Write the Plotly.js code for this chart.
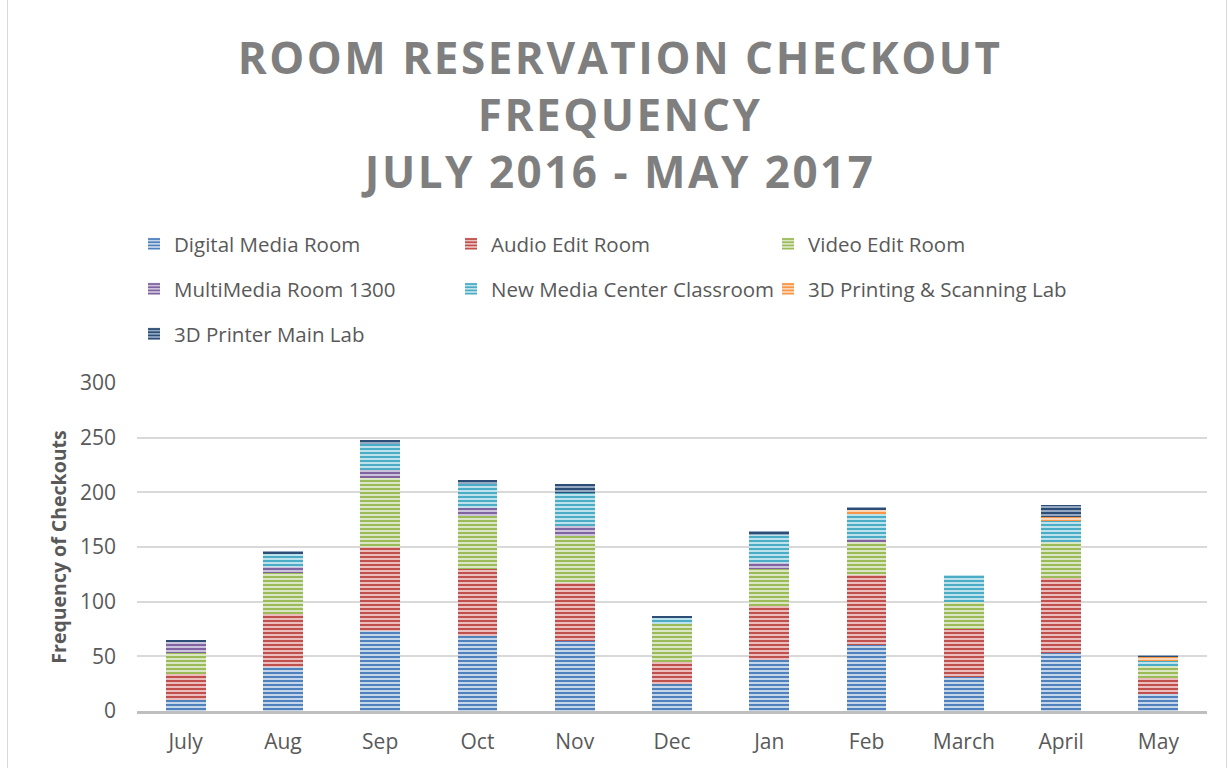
<!DOCTYPE html>
<html>
<head>
<meta charset="utf-8">
<script src="https://cdn.plot.ly/plotly-3.0.1.min.js"></script>
<style>
html, body { margin: 0; padding: 0; background: #ffffff; }
#wrap { position: relative; width: 1228px; height: 768px; }
#chart { width: 1228px; height: 768px; }
.gtitle { letter-spacing: 2.5px; }
.bl { position: absolute; top: 0; width: 1px; height: 768px; background: #d9d9d9; }
</style>
</head>
<body>
<div id="wrap">
<div id="chart"></div>
<div class="bl" style="left:7px"></div>
<div class="bl" style="left:1226px"></div>
</div>
<script>
// Data
var months = ['July', 'Aug', 'Sep', 'Oct', 'Nov', 'Dec', 'Jan', 'Feb', 'March', 'April', 'May'];
var digitalMediaRoom = [10, 40, 73, 69, 64, 25, 47, 60, 31, 53, 16];
var audioEditRoom = [24, 49, 77, 61, 53, 20, 49, 64, 44, 69, 14];
var videoEditRoom = [19, 37, 63, 48, 43, 35, 34, 31, 25, 33, 11];
var multiMediaRoom1300 = [11, 6, 7, 8, 9, 0, 5, 2, 0, 0, 0];
var newMediaCenterClassroom = [0, 12, 24, 22, 30, 5, 26, 23, 24, 19, 5];
var printingScanningLab = [0, 0, 0, 0, 0, 0, 0, 4, 0, 3, 3];
var printerMainLab = [1, 2, 4, 3, 9, 2, 4, 3, 0, 11, 2];
var yTicks = [0, 50, 100, 150, 200, 250, 300];

var seriesNames = ['Digital Media Room', 'Audio Edit Room', 'Video Edit Room',
  'MultiMedia Room 1300', 'New Media Center Classroom', '3D Printing & Scanning Lab', '3D Printer Main Lab'];
var seriesValues = [digitalMediaRoom, audioEditRoom, videoEditRoom, multiMediaRoom1300,
  newMediaCenterClassroom, printingScanningLab, printerMainLab];
var mainColors = ['#4f81bd', '#c0504d', '#9bbb59', '#8064a2', '#4bacc6', '#f79646', '#2c4d75'];
var lightColors = ['#c5d5ea', '#ebbebd', '#dbe7c4', '#cdc2dc', '#bde2eb', '#fbd6b6', '#95a8c2'];
var legendIds = ['legend', 'legend', 'legend', 'legend2', 'legend2', 'legend2', 'legend3'];

var traces = seriesNames.map(function (name, i) {
  return {
    type: 'bar',
    name: name,
    x: months,
    y: seriesValues[i],
    legend: legendIds[i],
    marker: {
      color: mainColors[i],
      line: { width: 0 },
      pattern: {
        shape: '-',
        fillmode: 'replace',
        bgcolor: lightColors[i],
        fgcolor: mainColors[i],
        size: 4,
        solidity: 0.5
      }
    },
    hoverinfo: 'x+y+name'
  };
});

var font = 'Open Sans, Noto Sans, sans-serif';
var legendCommon = {
  orientation: 'h',
  xref: 'container', yref: 'container',
  x: 134 / 1228, xanchor: 'left',
  yanchor: 'middle',
  entrywidth: 272, entrywidthmode: 'pixels',
  font: { family: font, size: 20.5, color: '#595959' },
  bgcolor: 'rgba(0,0,0,0)',
  borderwidth: 0,
  traceorder: 'normal'
};
function leg(yc) {
  var o = JSON.parse(JSON.stringify(legendCommon));
  o.y = 1 - yc / 768;
  return o;
}

var layout = {
  width: 1228,
  height: 768,
  paper_bgcolor: '#ffffff',
  plot_bgcolor: '#ffffff',
  margin: { l: 137, r: 21, t: 383, b: 57 },
  barmode: 'stack',
  bargap: 0.59,
  showlegend: true,
  title: {
    text: 'ROOM RESERVATION CHECKOUT<br>FREQUENCY<br>JULY 2016 - MAY 2017',
    xref: 'container', yref: 'container',
    x: 0.505, xanchor: 'center',
    y: 1 - 74 / 768, yanchor: 'top',
    font: { family: font, size: 44, color: '#7f7f7f', weight: 'bold' }
  },
  legend: leg(244),
  legend2: leg(289),
  legend3: leg(334),
  xaxis: {
    type: 'category',
    categoryorder: 'array',
    categoryarray: months,
    showgrid: false,
    showline: true,
    linecolor: '#bfbfbf',
    linewidth: 3,
    ticks: '',
    ticklabelstandoff: 10,
    tickfont: { family: font, size: 21, color: '#595959' },
    fixedrange: true
  },
  yaxis: {
    range: [0, 300],
    tickvals: yTicks,
    ticktext: yTicks.map(String),
    showgrid: true,
    gridcolor: '#d9d9d9',
    gridwidth: 1.5,
    zeroline: false,
    showline: false,
    ticks: '',
    ticklabelstandoff: 20,
    tickfont: { family: font, size: 21, color: '#595959' },
    title: {
      text: 'Frequency of Checkouts',
      standoff: 8,
      font: { family: font, size: 19.5, color: '#595959', weight: 'bold' }
    },
    fixedrange: true
  }
};

Plotly.newPlot('chart', traces, layout, { displayModeBar: false, staticPlot: false });
</script>
</body>
</html>
